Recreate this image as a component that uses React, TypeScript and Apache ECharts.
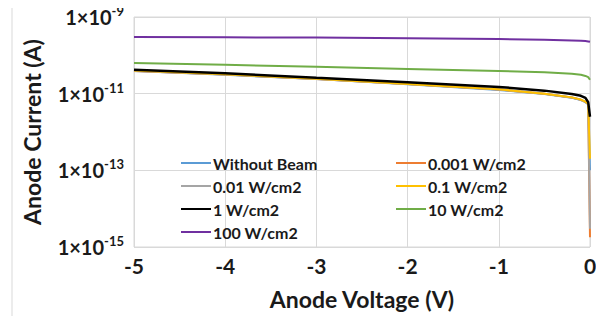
import React, { useEffect, useRef } from "react";
import * as echarts from "echarts";

const voltages = [-5, -4, -3, -2, -1, -0.5, -0.2, -0.1, -0.05, -0.02, 0];
const seriesNames = ["Without Beam", "0.001 W/cm2", "0.01 W/cm2", "0.1 W/cm2", "1 W/cm2", "10 W/cm2", "100 W/cm2"];
const seriesColors = ["#5B9BD5", "#ED7D31", "#A5A5A5", "#FFC000", "#000000", "#70AD47", "#7030A0"];
const withoutBeam = [3.9e-11, 3.1e-11, 2.4e-11, 1.75e-11, 1.25e-11, 9.8e-12, 7.8e-12, 6.8e-12, 6.0e-12, 5.3e-12, 1.0e-13];
const p0001 = [3.9e-11, 3.15e-11, 2.4e-11, 1.78e-11, 1.28e-11, 9.9e-12, 7.9e-12, 6.9e-12, 6.1e-12, 5.4e-12, 1.8e-15];
const p001 = [3.95e-11, 3.15e-11, 2.42e-11, 1.78e-11, 1.28e-11, 9.9e-12, 7.9e-12, 6.9e-12, 6.1e-12, 5.4e-12, 3.0e-15];
const p01 = [4.0e-11, 3.2e-11, 2.45e-11, 1.8e-11, 1.3e-11, 1.0e-11, 8.0e-12, 7.0e-12, 6.2e-12, 5.5e-12, 2.0e-13];
const p1 = [4.2e-11, 3.4e-11, 2.6e-11, 2.0e-11, 1.5e-11, 1.2e-11, 9.8e-12, 8.8e-12, 7.8e-12, 6.0e-12, 2.5e-12];
const p10 = [6.3e-11, 5.7e-11, 5.0e-11, 4.4e-11, 3.9e-11, 3.6e-11, 3.3e-11, 3.1e-11, 2.9e-11, 2.7e-11, 2.3e-11];
const p100 = [3.0e-10, 2.95e-10, 2.9e-10, 2.8e-10, 2.65e-10, 2.55e-10, 2.45e-10, 2.4e-10, 2.35e-10, 2.3e-10, 2.25e-10];
const seriesValues = [withoutBeam, p0001, p001, p01, p1, p10, p100];
const xTicks = [-5, -4, -3, -2, -1, 0];
const yExponents = [-15, -13, -11, -9];

const FONT = "Lato";
const TEXT = "#1a1a1a";

export default function App() {
  const ref = useRef<HTMLDivElement>(null);
  useEffect(() => {
    const chart = echarts.init(ref.current!, null, { renderer: "svg" });
    const legendText = { fontFamily: FONT, fontWeight: "bold", fontSize: 16, color: TEXT, padding: [0, 0, 0, -3] };
    chart.setOption({
      animation: false,
      textStyle: { fontFamily: FONT },
      graphic: [
        {
          type: "rect",
          shape: { x: 12, y: 3, width: 588, height: 319 },
          style: { fill: "none", stroke: "#d9d9d9", lineWidth: 1 },
        },
      ],
      grid: { left: 134, right: 14, top: 17, bottom: 77, show: true, borderColor: "#d9d9d9", borderWidth: 1 },
      legend: [
        {
          data: [seriesNames[0], seriesNames[2], seriesNames[4], seriesNames[6]],
          orient: "vertical",
          left: 176,
          top: 150,
          itemWidth: 30,
          itemHeight: 2,
          itemGap: 7,
          icon: "rect",
          textStyle: legendText,
        },
        {
          data: [seriesNames[1], seriesNames[3], seriesNames[5]],
          orient: "vertical",
          left: 391,
          top: 150,
          itemWidth: 30,
          itemHeight: 2,
          itemGap: 7,
          icon: "rect",
          textStyle: legendText,
        },
      ],
      xAxis: {
        type: "value",
        min: xTicks[0],
        max: xTicks[xTicks.length - 1],
        interval: 1,
        name: "Anode Voltage (V)",
        nameLocation: "middle",
        nameGap: 40,
        nameTextStyle: { fontFamily: FONT, fontWeight: "bold", fontSize: 23, color: TEXT },
        axisLine: { show: false },
        axisTick: { show: false },
        axisLabel: { fontFamily: FONT, fontWeight: "bold", fontSize: 21, color: TEXT, margin: 8 },
        splitLine: { show: true, lineStyle: { color: "#d9d9d9", width: 1 } },
      },
      yAxis: {
        type: "log",
        logBase: 10,
        min: Math.pow(10, yExponents[0]),
        max: Math.pow(10, yExponents[yExponents.length - 1]),
        interval: 2,
        name: "Anode Current (A)",
        nameLocation: "middle",
        nameGap: 91,
        nameTextStyle: { fontFamily: FONT, fontWeight: "bold", fontSize: 23, color: TEXT },
        axisLine: { show: false },
        axisTick: { show: false },
        axisLabel: {
          margin: 10,
          formatter: (v: number) => `{b|1×10}{s|${Math.round(Math.log10(v))}}`,
          rich: {
            b: { fontFamily: FONT, fontWeight: "bold", fontSize: 20, color: TEXT },
            s: { fontFamily: FONT, fontWeight: "bold", fontSize: 13, color: TEXT, padding: [0, 0, 12, 0] },
          },
        },
        splitLine: { show: true, lineStyle: { color: "#d9d9d9", width: 1 } },
      },
      series: seriesNames.map((name, i) => ({
        name,
        type: "line",
        showSymbol: false,
        symbol: "none",
        color: seriesColors[i],
        lineStyle: { width: i === 4 ? 2.5 : 2, color: seriesColors[i] },
        data: voltages.map((x, j) => [x, seriesValues[i][j]]),
        z: 2 + i,
      })),
    });
    return () => chart.dispose();
  }, []);
  return <div ref={ref} style={{ width: 604, height: 324, margin: -8 }} />;
}
